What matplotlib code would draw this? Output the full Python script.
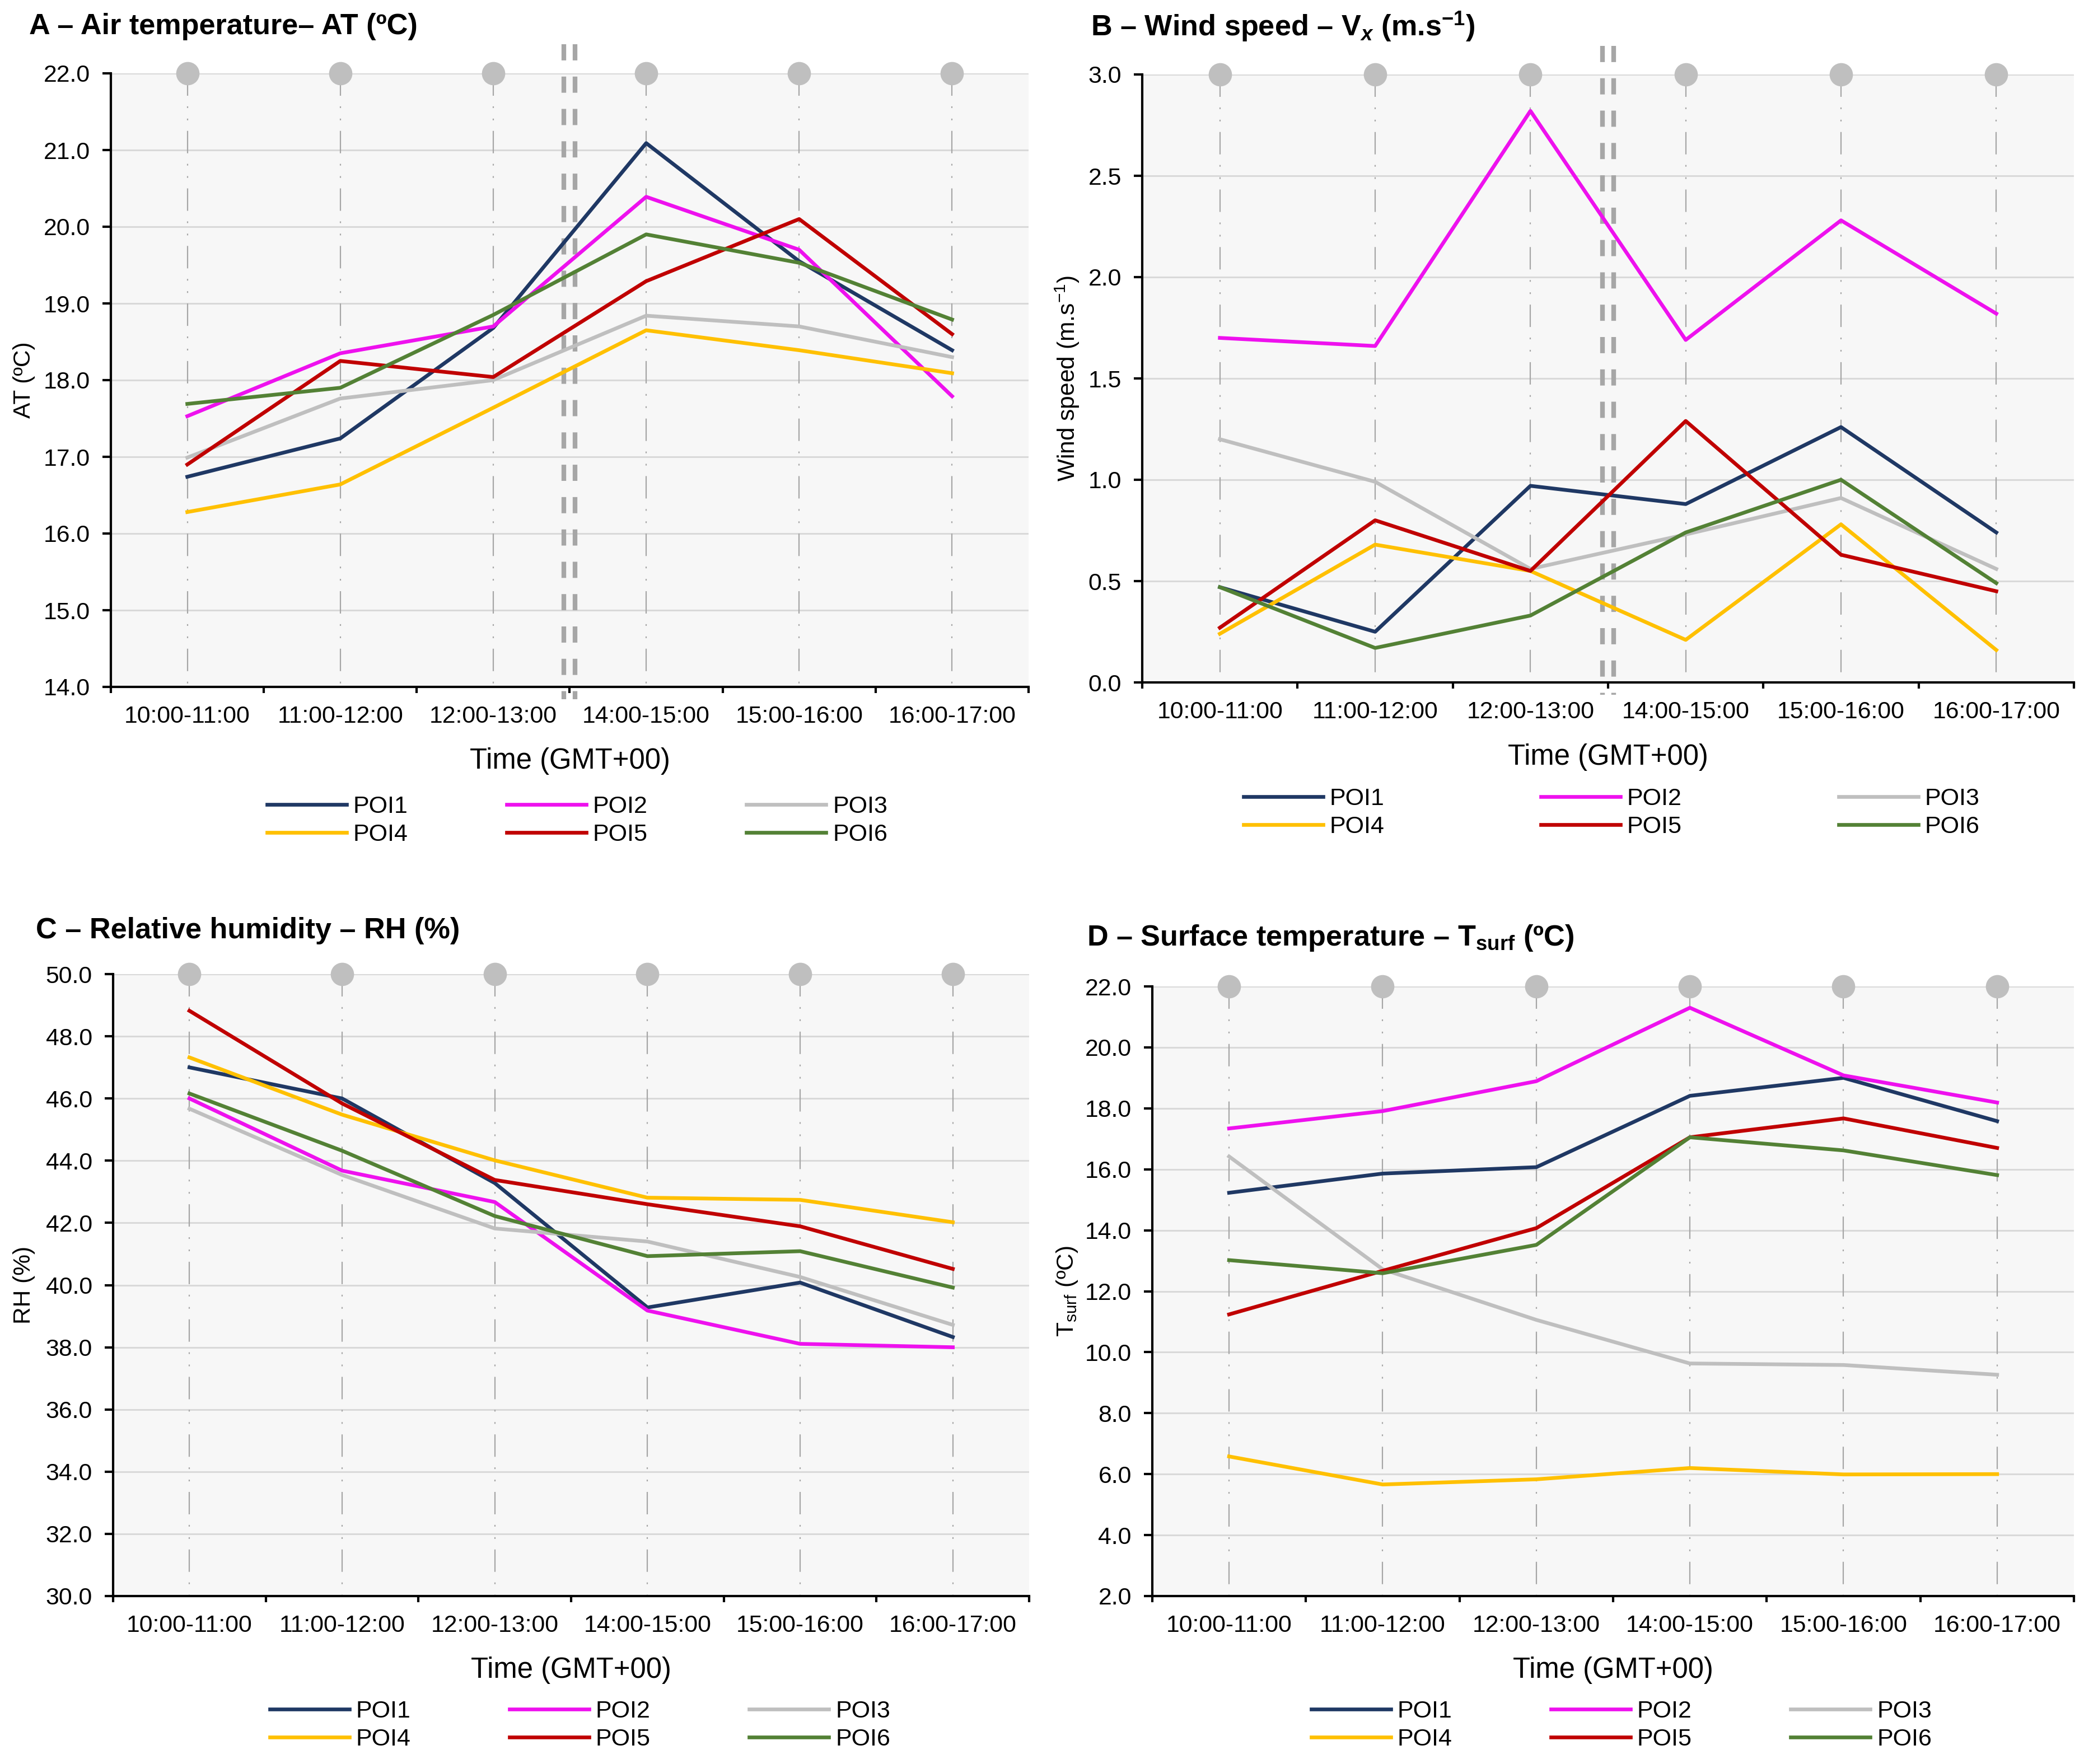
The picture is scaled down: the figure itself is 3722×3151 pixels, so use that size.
"""Four-panel microclimate time series (AT, wind speed, RH, surface temp) per POI."""

import numpy as np
import matplotlib
matplotlib.use("Agg")
import matplotlib.pyplot as plt
from matplotlib import transforms

plt.rcParams["font.family"] = ["Liberation Sans", "DejaVu Sans"]
plt.rcParams["mathtext.fontset"] = "custom"
plt.rcParams["mathtext.rm"] = "Liberation Sans"
plt.rcParams["mathtext.it"] = "Liberation Sans:italic"
plt.rcParams["mathtext.bf"] = "Liberation Sans:bold"
plt.rcParams["mathtext.bfit"] = "Liberation Sans:italic:bold"
plt.rcParams["lines.scale_dashes"] = False

# ---------------------------------------------------------------------------
# Data
# ---------------------------------------------------------------------------
periods = ["10:00-11:00", "11:00-12:00", "12:00-13:00",
           "14:00-15:00", "15:00-16:00", "16:00-17:00"]
poi_names = ["POI1", "POI2", "POI3", "POI4", "POI5", "POI6"]

air_temp = {
    "POI1": [16.74, 17.24, 18.68, 21.09, 19.55, 18.39],
    "POI2": [17.53, 18.35, 18.70, 20.39, 19.70, 17.79],
    "POI3": [16.99, 17.76, 18.00, 18.84, 18.70, 18.30],
    "POI4": [16.28, 16.64, 17.64, 18.65, 18.39, 18.09],
    "POI5": [16.90, 18.25, 18.04, 19.29, 20.10, 18.60],
    "POI6": [17.69, 17.90, 18.85, 19.90, 19.53, 18.79],
}
wind_speed = {
    "POI1": [0.47, 0.25, 0.97, 0.88, 1.26, 0.74],
    "POI2": [1.70, 1.66, 2.82, 1.69, 2.28, 1.82],
    "POI3": [1.20, 0.99, 0.56, 0.73, 0.91, 0.56],
    "POI4": [0.24, 0.68, 0.55, 0.21, 0.78, 0.16],
    "POI5": [0.27, 0.80, 0.55, 1.29, 0.63, 0.45],
    "POI6": [0.47, 0.17, 0.33, 0.74, 1.00, 0.49],
}
rel_humidity = {
    "POI1": [47.00, 46.00, 43.28, 39.28, 40.08, 38.33],
    "POI2": [46.00, 43.68, 42.67, 39.18, 38.11, 38.00],
    "POI3": [45.67, 43.54, 41.82, 41.40, 40.26, 38.72],
    "POI4": [47.32, 45.48, 44.01, 42.81, 42.74, 42.02],
    "POI5": [48.82, 45.84, 43.38, 42.60, 41.89, 40.52],
    "POI6": [46.16, 44.32, 42.22, 40.93, 41.09, 39.92],
}
surf_temp = {
    "POI1": [15.23, 15.86, 16.07, 18.41, 19.00, 17.58],
    "POI2": [17.34, 17.91, 18.89, 21.30, 19.08, 18.19],
    "POI3": [16.42, 12.72, 11.06, 9.63, 9.58, 9.26],
    "POI4": [6.58, 5.66, 5.83, 6.20, 5.99, 6.00],
    "POI5": [11.24, 12.67, 14.07, 17.05, 17.67, 16.70],
    "POI6": [13.02, 12.59, 13.52, 17.05, 16.62, 15.81],
}

colors = {
    "POI1": "#1f3864",
    "POI2": "#ee11ee",
    "POI3": "#bfbfbf",
    "POI4": "#ffc000",
    "POI5": "#c00000",
    "POI6": "#538135",
}

W, H = 3723, 3151
DPI = 200
fig = plt.figure(figsize=(W / DPI, H / DPI), dpi=DPI)


def fx(px):
    return px / W


def fy(py):
    return 1 - py / H


PANELS = [
    {
        "data": air_temp, "ylim": (14, 22), "step": 1.0,
        "rect": (198, 131, 1837, 1227),
        "title": "A – Air temperature– AT (ºC)", "title_xy": (52, 48),
        "ylabel": "AT (ºC)", "double": True,
        "legend_xy": (1031, 1466), "colsp": 4.1,
    },
    {
        "data": wind_speed, "ylim": (0, 3), "step": 0.5,
        "rect": (2040, 133, 3704, 1219),
        "title": r"B – Wind speed – V$_{\mathbfit{x}}$ (m.s$^{\mathbf{-1}}$)",
        "title_xy": (1948, 48),
        "ylabel": r"Wind speed (m.s$^{-1}$)", "double": True,
        "legend_xy": (2878, 1452), "colsp": 6.5,
    },
    {
        "data": rel_humidity, "ylim": (30, 50), "step": 2.0,
        "rect": (202, 1740, 1838, 2851),
        "title": "C – Relative humidity – RH (%)", "title_xy": (64, 1663),
        "ylabel": "RH (%)", "double": False,
        "legend_xy": (1036, 3082), "colsp": 4.1,
    },
    {
        "data": surf_temp, "ylim": (2, 22), "step": 2.0,
        "rect": (2058, 1762, 3704, 2851),
        "title": r"D – Surface temperature – T$_{\mathbf{surf}}$ (ºC)",
        "title_xy": (1941, 1675),
        "ylabel": r"T$_{\mathrm{surf}}$ (ºC)", "double": False,
        "legend_xy": (2896, 3082), "colsp": 4.1,
    },
]

x = np.arange(len(periods))

for p in PANELS:
    l, t, r, b = p["rect"]
    ax = fig.add_axes([fx(l), fy(b), fx(r - l), (b - t) / H])
    ax.set_facecolor("#f7f7f7")
    lo, hi = p["ylim"]
    ax.set_xlim(-0.5, len(periods) - 0.5)
    ax.set_ylim(lo, hi)

    # horizontal grid
    ax.set_yticks(np.arange(lo, hi + p["step"] / 2, p["step"]))
    ax.yaxis.set_major_formatter(matplotlib.ticker.FormatStrFormatter("%.1f"))
    ax.grid(axis="y", color="#d9d9d9", lw=1.1, zorder=0)
    ax.set_axisbelow(True)

    # category guide lines with markers on top
    for xi in x:
        ax.plot([xi, xi], [hi, lo], color="#a6a6a6", lw=0.8,
                dashes=(14.4, 6.8, 1.1, 6.8, 1.1, 6.8), zorder=1)
    ax.plot(x, [hi] * len(x), "o", color="#bfbfbf", ms=15, mec="none",
            clip_on=False, zorder=5)

    # double dashed separator between 12:00-13:00 and 14:00-15:00
    if p["double"]:
        base = transforms.blended_transform_factory(ax.transData, ax.transAxes)
        for dx in (-3.6, 3.6):
            tr = transforms.offset_copy(base, fig=fig, x=dx, y=0, units="points")
            ax.plot([2.5, 2.5], [1.047, -0.02], transform=tr, color="#a6a6a6",
                    lw=3.0, dashes=(10.4, 10.4), clip_on=False, zorder=2,
                    solid_capstyle="butt", dash_capstyle="butt")

    handles = {}
    for name in poi_names:
        (ln,) = ax.plot(x, p["data"][name], color=colors[name], lw=2.4,
                        label=name, zorder=3)
        handles[name] = ln

    # axes styling
    for side in ("top", "right"):
        ax.spines[side].set_visible(False)
    for side in ("left", "bottom"):
        ax.spines[side].set_linewidth(1.5)
        ax.spines[side].set_color("black")
    ax.set_xticks(np.arange(-0.5, len(periods)), labels=[""] * (len(periods) + 1))
    ax.set_xticks(x, labels=periods, minor=True)
    ax.tick_params(axis="x", which="major", length=4, width=1.5, direction="out")
    ax.tick_params(axis="x", which="minor", length=0, pad=12, labelsize=15.4)
    ax.tick_params(axis="y", length=5.4, width=1.5, pad=8, labelsize=15.4)

    ax.set_xlabel("Time (GMT+00)", fontsize=18.3, va="center")
    ax.xaxis.set_label_coords(0.5, -(133 / (b - t)))
    ax.set_ylabel(p["ylabel"], fontsize=15.3, va="center")
    ax.yaxis.set_label_coords(-(l - (43 if l < 1000 else 1906)) / (r - l), 0.5)

    fig.text(fx(p["title_xy"][0]), fy(p["title_xy"][1]), p["title"],
             fontsize=18.8, fontweight="bold", ha="left", va="center")

    order = ["POI1", "POI4", "POI2", "POI5", "POI3", "POI6"]
    fig.legend([handles[n] for n in order], order, ncol=3, loc="center",
               bbox_to_anchor=(fx(p["legend_xy"][0]), fy(p["legend_xy"][1])),
               frameon=False, fontsize=15.5, handlelength=3.3,
               handletextpad=0.27, columnspacing=p["colsp"],
               labelspacing=0.25, borderpad=0)

fig.savefig("out.png", dpi=DPI)
